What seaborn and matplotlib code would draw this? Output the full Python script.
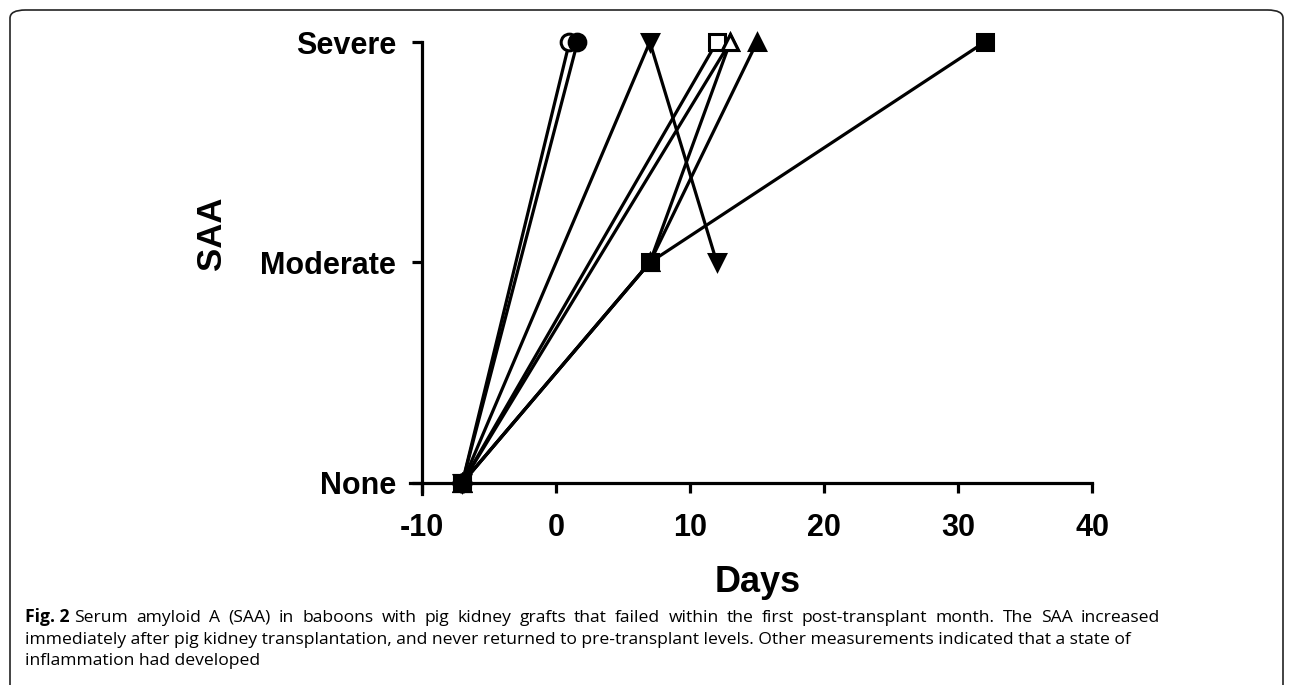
import matplotlib
matplotlib.use("Agg")
import matplotlib.pyplot as plt
import seaborn as sns
from matplotlib.patches import FancyBboxPatch

# SAA levels on the y axis
levels = ["None", "Moderate", "Severe"]
level_values = [0, 1, 2]
day_ticks = [-10, 0, 10, 20, 30, 40]

# one baboon per list: days after transplant, SAA level (0 None, 1 Moderate, 2 Severe)
open_circle_days = [-7, 1]
open_circle_saa = [0, 2]

filled_circle_days = [-7, 1.6]
filled_circle_saa = [0, 2]

down_triangle_days = [-7, 7, 12]
down_triangle_saa = [0, 2, 1]

open_square_days = [-7, 12]
open_square_saa = [0, 2]

open_triangle_days = [-7, 13]
open_triangle_saa = [0, 2]

open_triangle2_days = [-7, 7, 13]
open_triangle2_saa = [0, 1, 2]

filled_triangle_days = [-7, 7, 15]
filled_triangle_saa = [0, 1, 2]

filled_square_days = [-7, 7, 32]
filled_square_saa = [0, 1, 2]

caption_bold = "Fig. 2"
caption_lines = [
    "Serum amyloid A (SAA) in baboons with pig kidney grafts that failed within the first post-transplant month. The SAA increased",
    "immediately after pig kidney transplantation, and never returned to pre-transplant levels. Other measurements indicated that a state of",
    "inflammation had developed",
]

sns.set_style("ticks")
plt.rcParams["font.family"] = ["Liberation Sans", "DejaVu Sans"]

W, H = 1290, 685
fig = plt.figure(figsize=(W / 100, H / 100), dpi=100)

# axes placed so that day -10 sits at x=422 px, day 40 at 1092 px, Severe at y=42, None at 483
x0, x1 = 410, 1092
y_top, y_bot = 42, 494
ax = fig.add_axes([x0 / W, 1 - y_bot / H, (x1 - x0) / W, (y_bot - y_top) / H])

series = [
    (open_circle_days, open_circle_saa, "o", "white"),
    (filled_circle_days, filled_circle_saa, "o", "black"),
    (down_triangle_days, down_triangle_saa, "v", "black"),
    (open_square_days, open_square_saa, "s", "white"),
    (open_triangle_days, open_triangle_saa, "^", "white"),
    (open_triangle2_days, open_triangle2_saa, "^", "white"),
    (filled_triangle_days, filled_triangle_saa, "^", "black"),
    (filled_square_days, filled_square_saa, "s", "black"),
]

for days, saa, marker, face in series:
    sns.lineplot(
        x=days,
        y=saa,
        ax=ax,
        color="black",
        linewidth=2.3,
        marker=marker,
        markersize=12,
        markerfacecolor=face,
        markeredgecolor="black",
        markeredgewidth=2.2,
        estimator=None,
        sort=False,
        clip_on=False,
        zorder=3,
    )

ax.set_xlim(-10.9, 40)
ax.set_ylim(-0.05, 2)

sns.despine(ax=ax)
ax.spines["left"].set_position(("data", -10))
ax.spines["bottom"].set_position(("data", 0))
for side in ["left", "bottom"]:
    ax.spines[side].set_linewidth(2.3)
    ax.spines[side].set_color("black")

ax.set_xticks(day_ticks)
ax.set_xticklabels([str(t) for t in day_ticks])
ax.set_yticks(level_values)
ax.set_yticklabels(levels)
ax.tick_params(axis="both", length=7.5, width=2.3, color="black",
               labelsize=22, labelcolor="black")
ax.tick_params(axis="x", pad=14)
ax.tick_params(axis="y", pad=11)
for lab in ax.get_xticklabels() + ax.get_yticklabels():
    lab.set_fontweight("bold")

ax.set_xlabel("")
ax.set_ylabel("")

fig.text(758 / W, 1 - 582 / H, "Days", ha="center", va="center",
         fontsize=26, fontweight="bold", color="black")
fig.text(212 / W, 1 - 233 / H, "SAA", ha="center", va="center",
         rotation=90, fontsize=25, fontweight="bold", color="black")

# caption, bold figure number followed by the plain text
cap_font = ["Open Sans", "DejaVu Sans"]
cap_size = 12.6
cap_x = 25
baselines = [622, 643.5, 665]
first_line_end = 1160
renderer = fig.canvas.get_renderer()

bold = fig.text(cap_x / W, 1 - baselines[0] / H, caption_bold, ha="left",
                va="baseline", fontsize=cap_size, fontweight="bold",
                family=cap_font, color="black")
start = bold.get_window_extent(renderer).x1 + 5

# the first caption line is spread a little towards the column edge
words = caption_lines[0].split(" ")
word_texts = []
total = 0
for w in words:
    t = fig.text(0, 1 - baselines[0] / H, w, ha="left", va="baseline",
                 fontsize=cap_size, family=cap_font, color="black")
    total += t.get_window_extent(renderer).width
    word_texts.append(t)
gap = (first_line_end - start - total) / (len(words) - 1)
xpos = start
for t in word_texts:
    t.set_x(xpos / W)
    xpos += t.get_window_extent(renderer).width + gap

for line, yy in zip(caption_lines[1:], baselines[1:]):
    fig.text(cap_x / W, 1 - yy / H, line, ha="left", va="baseline",
             fontsize=cap_size, family=cap_font, color="black")

# rounded frame around the figure panel
frame = FancyBboxPatch((10 / W, -0.05), (1283 - 10) / W, 1 - 10 / H + 0.05,
                       boxstyle="round,pad=0,rounding_size=0.012",
                       transform=fig.transFigure, fill=False,
                       edgecolor="#222222", linewidth=1.2)
fig.patches.append(frame)

fig.savefig("out.png", dpi=100)
plt.close(fig)
